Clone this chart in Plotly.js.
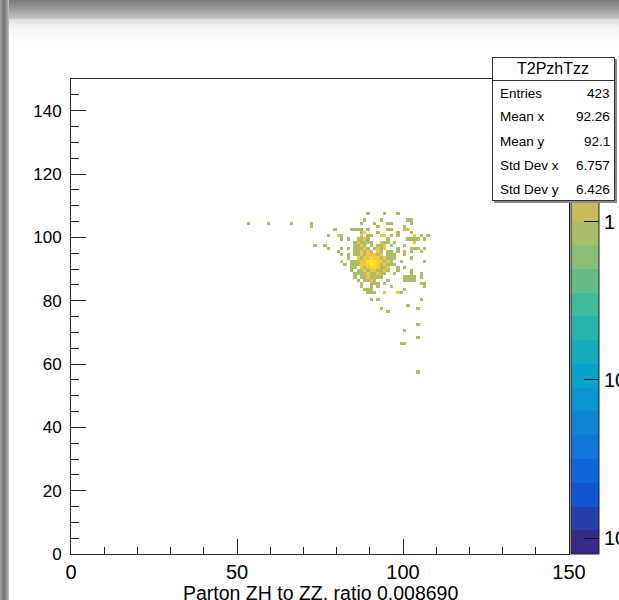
<!DOCTYPE html>
<html><head><meta charset="utf-8">
<script src="https://cdn.plot.ly/plotly-3.0.1.min.js"></script>
<style>
html,body{margin:0;padding:0;background:#fff;}
#wrap{position:relative;width:619px;height:600px;overflow:hidden;background:#fff;}
#topband{position:absolute;left:0;top:0;width:619px;height:19px;background:linear-gradient(to bottom,#7a7a7a 0px,#8c8c8c 5px,#a3a3a3 11px,#bababa 16px,#c6c6c6 19px);}
#leftband{position:absolute;left:0;top:0;width:9px;height:600px;background:linear-gradient(to right,#a3a3a3 0px,#707070 4px,#979797 7px,#c6c6c6 9px);}
#canvas{position:absolute;left:9px;top:19px;width:610px;height:581px;background:linear-gradient(to bottom,#dedede 0px,#f2f2f2 8px,#ffffff 22px);}
#chart{position:absolute;left:0;top:0;width:619px;height:600px;}
</style></head>
<body>
<div id="wrap"><div id="topband"></div><div id="leftband"></div><div id="canvas"></div><div id="chart"></div></div>
<script>
// ---- data: 2D histogram bins (bin lower edge, width 1) ----
const rowY = [107,105,104,103,102,101,100,99,98,97,96,95,94,93,92,91,90,89,88,87,86,85,84,83,82,80,78,77,76,72,70,68,66,57];
const rowX = [
 [89,94,98],
 [88,93,101,102],
 [53,59,66,72,87,91,95,96,102],
 [72,92,100],
 [79,84,85,86,87,89,95,96,100,101],
 [87,88,92,98,102],
 [77,80,81,87,89,90,93,94,96,98,103,105,107],
 [81,83,86,87,88,89,95,101,102,103,104,106],
 [85,86,87,88,89,90,93,94,95,97,103],
 [73,76,85,86,87,88,90,92,93,94,96,100],
 [77,81,83,85,86,87,88,89,91,92,93,94,98,102,103,104,106],
 [80,85,86,87,88,89,90,92,93,95,96,98,100,102,105],
 [81,83,85,86,87,88,89,90,91,92,93,95,96,97,100],
 [83,86,87,88,89,90,91,92,93,94,95,96,97,102],
 [81,84,85,86,87,88,89,90,91,92,93,94,95,96,99,106],
 [82,84,85,86,87,88,89,90,91,92,93,94,95,96,97],
 [84,85,87,88,89,90,91,92,93,94,95,98,100],
 [84,86,87,88,89,90,91,92,93,94,95,98,102],
 [85,86,87,88,89,90,91,92,93,94,97,102,105],
 [85,87,88,89,90,91,92,93,100,101,102,103,105],
 [86,88,89,90,91,95,100,101,102,103],
 [87,90,91,92,94,105,106],
 [87,90,92,96,106],
 [88,89,90,100],
 [89,90,91,94,98,99],
 [90,92,105],
 [101],
 [93,104],
 [95],
 [104],
 [100],
 [104],
 [99,100],
 [104]
];
const rowN = [
 [1,1,1],
 [1,1,1,1],
 [1,1,1,1,1,1,1,1,1],
 [1,1,1],
 [1,1,1,1,1,1,1,1,1,2],
 [1,2,1,1,1],
 [1,2,1,2,1,1,2,2,1,1,2,1,1],
 [1,1,1,1,2,1,1,1,1,1,1,1],
 [1,2,1,1,1,1,2,1,1,1,2],
 [1,1,1,1,2,1,1,1,1,2,1,1],
 [1,1,1,1,1,1,2,1,1,2,1,2,1,1,1,1,1],
 [1,1,1,2,1,2,1,2,1,1,1,1,1,1,1],
 [1,1,1,1,2,1,2,2,2,1,2,1,1,1,1],
 [1,2,1,2,2,3,2,2,1,2,1,1,1,1],
 [2,1,1,1,2,2,4,5,4,2,2,1,2,1,1,1],
 [1,1,1,1,2,2,3,6,4,2,1,2,1,1,1],
 [1,1,2,1,2,3,3,2,1,1,2,1,1],
 [1,1,1,2,1,2,2,1,1,2,1,1,1],
 [1,1,1,1,2,1,1,2,1,1,1,1,1],
 [1,1,1,2,1,1,1,1,1,1,1,1,1],
 [1,1,1,2,1,1,1,1,1,1],
 [1,1,1,1,1,1,1],
 [1,1,1,1,1],
 [1,1,1,1],
 [1,1,1,2,2,1],
 [1,1,1],
 [1],
 [1,1],
 [1],
 [1],
 [1],
 [1],
 [1,1],
 [1]
];
const zMax = 7.95, zMin = zMax / 1000;
const cbTickVals = [1, 0.1, 0.01];
const cbTickText = ['1', '10<sup>-1</sup>', '10<sup>-2</sup>'];
const cbMinorVals = [0.009,0.02,0.03,0.04,0.05,0.06,0.07,0.08,0.09,0.2,0.3,0.4,0.5,0.6,0.7,0.8,0.9,2,3,4,5,6,7];
const statsTitle = 'T2PzhTzz';
const statsLabels = ['Entries','Mean x','Mean y','Std Dev x','Std Dev y'];
const statsValues = ['423','92.26','92.1','6.757','6.426'];
const xTitle = 'Parton ZH to ZZ, ratio 0.008690';

// ---- build histogram grid ----
const NB = 150;
const z = [];
for (let j = 0; j < NB; j++) { z.push(new Array(NB).fill(null)); }
rowY.forEach((y, i) => {
  rowX[i].forEach((x, k) => { z[y][x] = Math.log10(rowN[i][k]); });
});

// ---- kBird palette, 20 discrete contour levels ----
const st = [0.0,0.125,0.25,0.375,0.5,0.625,0.75,0.875,1.0];
const rr = [0.2082,0.0592,0.0780,0.0232,0.1802,0.5301,0.8186,0.9956,0.9764];
const gg = [0.1664,0.3599,0.5041,0.6419,0.7178,0.7492,0.7328,0.7862,0.9832];
const bb = [0.5293,0.8684,0.8385,0.7914,0.6425,0.4662,0.3499,0.1968,0.0539];
function bird(f){
  let i = 0; while (i < st.length - 2 && f > st[i+1]) i++;
  const t = (f - st[i]) / (st[i+1] - st[i]);
  const c = a => Math.round(255 * (a[i] + t * (a[i+1] - a[i])));
  return 'rgb(' + c(rr) + ',' + c(gg) + ',' + c(bb) + ')';
}
const NC = 20, cs = [];
for (let k = 0; k < NC; k++) {
  const col = bird(k / (NC - 1));
  cs.push([k / NC, col]); cs.push([(k + 1) / NC, col]);
}

const FONT = 'Liberation Sans, Arial, Helvetica, sans-serif';
const ML = 71, MR = 50, MT = 79, MB = 46, W = 619, H = 600;
const PW = W - ML - MR, PH = H - MT - MB;
const px = v => (v - ML) / PW;
const py = v => (H - MB - v) / PH;

const hist = {
  type: 'heatmap', z: z, x0: 0.5, dx: 1, y0: 0.5, dy: 1,
  zmin: Math.log10(zMin), zmax: Math.log10(zMax), zauto: false,
  colorscale: cs, zsmooth: false, hoverinfo: 'skip', xgap: 0, ygap: 0,
  colorbar: {
    x: px(571), xref: 'paper', xanchor: 'left', xpad: 0, ypad: 0,
    y: 0, yanchor: 'bottom', len: PH, lenmode: 'pixels',
    thickness: 28, thicknessmode: 'pixels',
    outlinewidth: 1, outlinecolor: '#222',
    tickmode: 'array', tickvals: cbTickVals.map(Math.log10), ticktext: cbTickText,
    ticks: 'inside', ticklen: 15, tickwidth: 1, tickcolor: '#111',
    tickfont: {family: FONT, size: 20, color: '#000'}
  }
};
const minorBar = {
  type: 'heatmap', z: [[null]], x0: -50, dx: 1, y0: -50, dy: 1,
  zmin: Math.log10(zMin), zmax: Math.log10(zMax), zauto: false,
  colorscale: [[0,'rgba(0,0,0,0)'],[1,'rgba(0,0,0,0)']], hoverinfo: 'skip',
  colorbar: {
    x: px(571), xref: 'paper', xanchor: 'left', xpad: 0, ypad: 0,
    y: 0, yanchor: 'bottom', len: PH, lenmode: 'pixels',
    thickness: 28, thicknessmode: 'pixels', outlinewidth: 0,
    tickmode: 'array', tickvals: cbMinorVals.map(Math.log10),
    ticks: 'inside', ticklen: 7, tickwidth: 1, tickcolor: '#111', showticklabels: false
  }
};

const ann = [];
// stats box shadow + box
ann.push({xref:'paper', yref:'paper', x: px(494), y: py(59), xanchor:'left', yanchor:'top',
  text:' ', showarrow:false, width:121, height:142, borderpad:0, borderwidth:1,
  bgcolor:'#8a8a8a', bordercolor:'#8a8a8a'});
ann.push({xref:'paper', yref:'paper', x: px(492), y: py(57), xanchor:'left', yanchor:'top',
  text:' ', showarrow:false, width:121, height:142, borderpad:0, borderwidth:1,
  bgcolor:'#ffffff', bordercolor:'#333'});
ann.push({xref:'paper', yref:'paper', x: px(492), y: py(57), xanchor:'left', yanchor:'top',
  text:' ', showarrow:false, width:121, height:22, borderpad:0, borderwidth:1,
  bgcolor:'rgba(0,0,0,0)', bordercolor:'#333'});
ann.push({xref:'paper', yref:'paper', x: px(553), y: py(68.5), xanchor:'center', yanchor:'middle',
  text: statsTitle, showarrow:false, font:{family:FONT, size:16, color:'#000'}});
statsLabels.forEach((s, i) => {
  const yy = py(93 + 24 * i);
  ann.push({xref:'paper', yref:'paper', x: px(498), y: yy, xanchor:'left', yanchor:'middle',
    text: s, showarrow:false, font:{family:FONT, size:13.5, color:'#000'}});
  ann.push({xref:'paper', yref:'paper', x: px(612), y: yy, xanchor:'right', yanchor:'middle',
    text: statsValues[i], showarrow:false, font:{family:FONT, size:13.5, color:'#000'}});
});
// x-axis title as annotation, placed below the tick labels
ann.push({xref:'paper', yref:'paper', x: 0.5, y: py(592.5), xanchor:'center', yanchor:'middle',
  text: xTitle, showarrow:false, font:{family:FONT, size:19.5, color:'#000'}});

const axisCommon = {
  range: [0, 150], autorange: false, showgrid: false, zeroline: false,
  showline: true, linecolor: '#222', linewidth: 1, mirror: true,
  ticks: 'inside', ticklen: 15, tickwidth: 1, tickcolor: '#222',
  automargin: false
};
const layout = {
  width: W, height: H,
  margin: {l: ML, r: MR, t: MT, b: MB, pad: 0, autoexpand: false},
  paper_bgcolor: 'rgba(0,0,0,0)', plot_bgcolor: '#ffffff',
  showlegend: false,
  font: {family: FONT, color: '#000'},
  xaxis: Object.assign({}, axisCommon, {
    tick0: 0, dtick: 50, ticklabelstandoff: 0,
    minor: {ticks: 'inside', ticklen: 7.5, dtick: 10, tickcolor: '#222', tickwidth: 1},
    tickfont: {family: FONT, size: 20, color: '#000'}
  }),
  yaxis: Object.assign({}, axisCommon, {
    tick0: 0, dtick: 20, ticklabelstandoff: 5,
    minor: {ticks: 'inside', ticklen: 7.5, dtick: 5, tickcolor: '#222', tickwidth: 1},
    tickfont: {family: FONT, size: 17, color: '#000'}
  }),
  annotations: ann
};
Plotly.newPlot('chart', [hist, minorBar], layout, {staticPlot: true, displayModeBar: false});
</script>
</body></html>
